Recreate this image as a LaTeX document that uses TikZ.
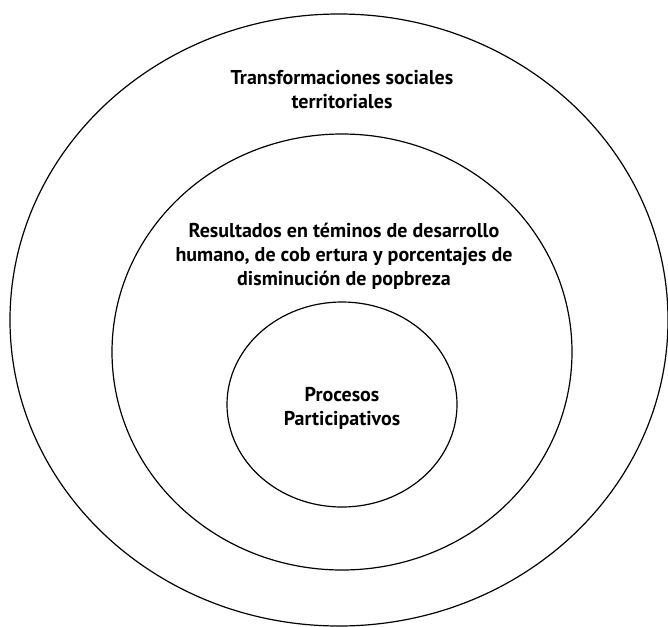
\documentclass[tikz,border=0pt]{standalone}
\usepackage{fontspec}
\setmainfont{PT Sans}
\usetikzlibrary{shapes.geometric}

\begin{document}
\begin{tikzpicture}[x=1pt,y=-1pt,
		ring/.style={draw,ellipse,line width=1.2pt,inner sep=0pt},
		label/.style={align=center,font=\fontsize{20}{24}\selectfont\bfseries}]
		\useasboundingbox (0,0) rectangle (668,626);
		% three nested rings
		\node[ring,minimum width=658pt,minimum height=612pt] (outer) at (339,320) {};
		\node[ring,minimum width=460pt,minimum height=436pt] (middle) at (342,352) {};
		\node[ring,minimum width=230pt,minimum height=205pt] (inner) at (342,404.5) {};
		% texts
		\node[label] (outertext) at (342,90) {Transformaciones sociales\\territoriales};
		\node[label] (middletext) at (344,256) {Resultados en téminos de desarrollo\\humano, de cob ertura y porcentajes de\\disminución de popbreza};
		\node[label] (innertext) at (342,408) {Procesos\\Participativos};
\end{tikzpicture}
\end{document}
